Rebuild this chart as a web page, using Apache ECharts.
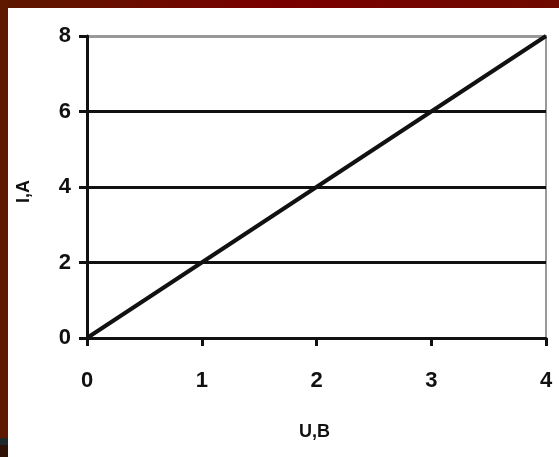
<!DOCTYPE html>
<html><head><meta charset="utf-8">
<script src="https://cdn.jsdelivr.net/npm/echarts@6/dist/echarts.min.js"></script>
<style>html,body{margin:0;padding:0;background:#fff}#c{width:559px;height:457px}</style>
</head><body><div id="c"></div>
<script>
const voltage = [0, 1, 2, 3, 4];
const current = [0, 2, 4, 6, 8];
const xTicks = [0, 1, 2, 3, 4];
const yTicks = [0, 2, 4, 6, 8];
const xName = 'U,B';
const yName = 'I,A';

const chart = echarts.init(document.getElementById('c'));
const font = {fontFamily: 'Liberation Sans, Arial, sans-serif', fontWeight: 'bold', fontSize: 22, color: '#111'};
chart.setOption({
  backgroundColor: '#fff',
  animation: false,
  graphic: [
    {type: 'rect', z: -10, shape: {x: 0, y: 0, width: 559, height: 8},
     style: {fill: {type: 'linear', x: 0, y: 0, x2: 1, y2: 0, colorStops: [{offset: 0, color: '#5c1800'}, {offset: 0.5, color: '#7a0000'}, {offset: 1, color: '#6e0a00'}]}}},
    {type: 'rect', z: -10, shape: {x: 0, y: 0, width: 8, height: 438}, style: {fill: '#5e1a00'}},
    {type: 'rect', z: -10, shape: {x: 0, y: 438, width: 8, height: 7}, style: {fill: '#1e2a2a'}},
    {type: 'rect', z: -10, shape: {x: 0, y: 445, width: 8, height: 12}, style: {fill: '#2e1208'}},
    {type: 'text', left: 299, top: 423, style: {text: xName, font: 'bold 18px Liberation Sans, Arial, sans-serif', fill: '#111'}},
    {type: 'text', x: 15, y: 203, rotation: Math.PI / 2, style: {text: yName, font: 'bold 18px Liberation Sans, Arial, sans-serif', fill: '#111'}}
  ],
  grid: {left: 87, right: 13, top: 36, bottom: 119, show: true, borderColor: '#999', borderWidth: 2, backgroundColor: 'transparent'},
  xAxis: {
    type: 'value', min: xTicks[0], max: xTicks[xTicks.length - 1], interval: 1,
    axisLine: {onZero: false, lineStyle: {color: '#111', width: 3}},
    axisTick: {show: true, length: 8, lineStyle: {color: '#111', width: 3}},
    splitLine: {show: false},
    axisLabel: Object.assign({margin: 32}, font)
  },
  yAxis: {
    type: 'value', min: yTicks[0], max: yTicks[yTicks.length - 1], interval: 2,
    axisLine: {show: true, onZero: false, lineStyle: {color: '#111', width: 3}},
    axisTick: {show: true, length: 8, lineStyle: {color: '#111', width: 3}},
    splitLine: {show: true, lineStyle: {color: ['#111', '#111', '#111', '#111', '#999'], width: 3}},
    axisLabel: Object.assign({margin: 16}, font)
  },
  series: [{
    type: 'line', data: voltage.map((v, i) => [v, current[i]]),
    showSymbol: false, symbol: 'none',
    lineStyle: {color: '#111', width: 4}, z: 5
  }]
});
</script></body></html>
